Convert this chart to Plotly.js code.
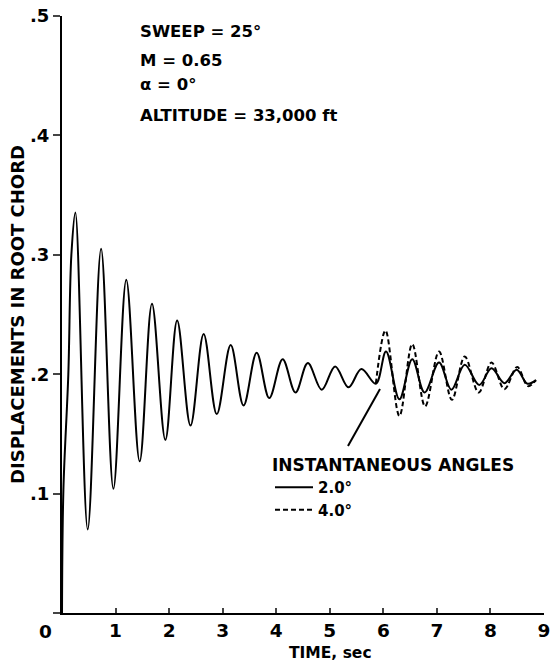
<!DOCTYPE html>
<html>
<head>
<meta charset="utf-8">
<script src="https://cdn.plot.ly/plotly-3.0.1.min.js"></script>
<style>html,body{margin:0;padding:0;background:#fff;}#chart{width:553px;height:666px;}</style>
</head>
<body>
<div id="chart"></div>
<script>
// Time (sec) and displacement (in root chord)
const timeSolid = [0, 0.026, 0.118, 0.175, 0.25, 0.48, 0.73, 0.96, 1.20, 1.45, 1.68, 1.93, 2.15, 2.40, 2.645, 2.89, 3.15, 3.39, 3.635, 3.87, 4.12, 4.36, 4.59, 4.85, 5.10, 5.35, 5.59, 5.86, 6.05, 6.30, 6.54, 6.77, 7.04, 7.27, 7.52, 7.79, 8.02, 8.26, 8.49, 8.69, 8.85];
const dispSolid = [0, 0.103, 0.200, 0.300, 0.3355, 0.070, 0.305, 0.104, 0.279, 0.127, 0.259, 0.145, 0.245, 0.157, 0.2336, 0.1666, 0.2244, 0.1738, 0.218, 0.180, 0.2126, 0.1847, 0.2093, 0.187, 0.2065, 0.189, 0.2043, 0.192, 0.219, 0.179, 0.2126, 0.1847, 0.2098, 0.187, 0.2079, 0.191, 0.205, 0.1925, 0.2037, 0.192, 0.195];
const timeDashed = [5.86, 6.04, 6.30, 6.54, 6.78, 7.04, 7.28, 7.52, 7.78, 8.02, 8.26, 8.50, 8.70, 8.85];
const dispDashed = [0.192, 0.2366, 0.165, 0.2252, 0.173, 0.219, 0.1785, 0.2148, 0.1847, 0.2098, 0.1875, 0.206, 0.190, 0.195];
const seriesNames = ['2.0°', '4.0°'];
const xTickVals = [1, 2, 3, 4, 5, 6, 7, 8, 9];
const yTickVals = [0, 0.1, 0.2, 0.3, 0.4, 0.5];
const yTickText = ['', '.1', '.2', '.3', '.4', '.5'];
const infoLines = ['SWEEP = 25°', 'M = 0.65', 'α = 0°', 'ALTITUDE = 33,000 ft'];

const FONT = 'DejaVu Sans, Arial, sans-serif';
const W = 553, H = 666;
const L = 62, R = 544, T = 16, B = 613;
const X = p => (p - L) / (R - L);
const Y = p => (B - p) / (B - T);

const traces = [
  {x: timeSolid, y: dispSolid, name: seriesNames[0], mode: 'lines',
   line: {color: '#000', width: 2, shape: 'spline', smoothing: 1}},
  {x: timeDashed, y: dispDashed, name: seriesNames[1], mode: 'lines',
   line: {color: '#000', width: 2, dash: '5px,3px', shape: 'spline', smoothing: 1}}
];

const infoY = [31, 61, 85, 115];
const annotations = infoLines.map((t, i) => ({
  text: '<b>' + t + '</b>', xref: 'paper', yref: 'paper', x: X(138), y: Y(infoY[i]),
  xanchor: 'left', yanchor: 'middle', showarrow: false,
  font: {family: FONT, size: 16.5, color: '#000'}
}));
annotations.push({text: '<b>0</b>', xref: 'paper', yref: 'paper', x: X(45), y: Y(631),
  xanchor: 'center', yanchor: 'middle', showarrow: false, font: {family: FONT, size: 18.5, color: '#000'}});
annotations.push({text: '<b>TIME, sec</b>', xref: 'paper', yref: 'paper', x: X(330), y: Y(653),
  xanchor: 'center', yanchor: 'middle', showarrow: false, font: {family: FONT, size: 15.5, color: '#000'}});

const layout = {
  width: W, height: H,
  margin: {l: L, r: W - R, t: T, b: H - B, pad: 0},
  paper_bgcolor: '#fff', plot_bgcolor: '#fff',
  font: {family: FONT, color: '#000'},
  xaxis: {range: [0, 9], tickvals: xTickVals, ticks: 'inside', ticklen: 5, tickwidth: 2,
    showline: true, linewidth: 2, linecolor: '#000', showgrid: false, zeroline: false,
    tickfont: {family: FONT, size: 18.5, color: '#000', weight: 'bold'}},
  yaxis: {range: [0, 0.5], tickvals: yTickVals, ticktext: yTickText, ticks: 'outside', ticklen: 7, tickwidth: 2,
    showline: true, linewidth: 2, linecolor: '#000', showgrid: false, zeroline: false,
    tickfont: {family: FONT, size: 18, color: '#000', weight: 'bold'},
    title: {text: '<b>DISPLACEMENTS IN ROOT CHORD</b>', standoff: 1, font: {family: FONT, size: 18, color: '#000'}}},
  showlegend: true,
  legend: {x: X(270), y: Y(449), xanchor: 'left', yanchor: 'top', bgcolor: 'rgba(0,0,0,0)',
    itemwidth: 38,
    font: {family: FONT, size: 15, color: '#000', weight: 'bold'},
    title: {text: '<b>INSTANTANEOUS ANGLES</b>', font: {family: FONT, size: 17, color: '#000'}, side: 'top'}},
  annotations: annotations,
  shapes: [{type: 'line', xref: 'paper', yref: 'paper', x0: X(380), y0: Y(389), x1: X(348), y1: Y(446),
    line: {color: '#000', width: 2}}]
};

Plotly.newPlot('chart', traces, layout, {displayModeBar: false, staticPlot: true});
</script>
</body>
</html>
